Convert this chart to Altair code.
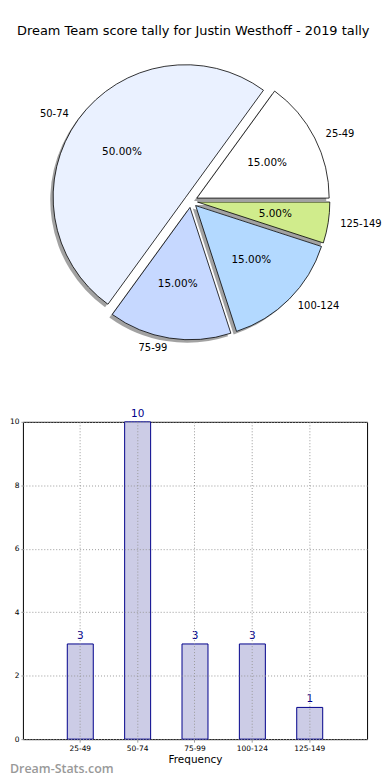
import altair as alt
import pandas as pd
import math

F = "DejaVu Sans"

labels = ["25-49", "50-74", "75-99", "100-124", "125-149"]
counts = [3, 10, 3, 3, 1]
order = [0, 1, 2, 3, 4]
pie_colors = ["#ffffff", "#eaf1ff", "#c6d8ff", "#b3d9ff", "#d0ec8c"]

df = pd.DataFrame({"label": labels, "count": counts, "order": order})

# pie view: width 358, centre at abs x ~191 ; 1 unit = 132 px horizontally, 130 px vertically
xs = alt.Scale(domain=[-169 / 132, 189 / 132], nice=False, zero=False)
ys = alt.Scale(domain=[-1.2615, 1.1385], nice=False, zero=False)
ts = alt.Scale(domain=[0, 1], range=[math.pi / 2, math.pi / 2 - 2 * math.pi], nice=False, zero=False)

base = (
    alt.Chart(df)
    .transform_window(end="sum(count)", sort=[alt.SortField("order")])
    .transform_joinaggregate(total="sum(count)")
    .transform_calculate(start="datum.end - datum.count")
    .transform_calculate(
        startf="datum.start / datum.total",
        endf="datum.end / datum.total",
        mid="PI * (datum.start + datum.end) / datum.total",
    )
    .transform_calculate(
        c="cos(datum.mid)",
        ex="0.05 * cos(datum.mid)",
        ey="0.05 * sin(datum.mid)",
        sx="0.05 * cos(datum.mid) - 0.022",
        sy="0.05 * sin(datum.mid) - 0.023",
        lx="1.15 * cos(datum.mid)",
        ly="1.15 * sin(datum.mid)",
        px="0.65 * cos(datum.mid)",
        py="0.65 * sin(datum.mid)",
        pct="format(100 * datum.count / datum.total, '.2f') + '%'",
    )
)

R = 133

shadow = base.mark_arc(radius=R, fill="#555555", fillOpacity=0.55).encode(
    x=alt.X("sx:Q", scale=xs, axis=None),
    y=alt.Y("sy:Q", scale=ys, axis=None),
    theta=alt.Theta("startf:Q", scale=ts),
    theta2="endf:Q",
)

wedges = base.mark_arc(radius=R, stroke="black", strokeWidth=0.8).encode(
    x=alt.X("ex:Q", scale=xs, axis=None),
    y=alt.Y("ey:Q", scale=ys, axis=None),
    theta=alt.Theta("startf:Q", scale=ts),
    theta2="endf:Q",
    color=alt.Color("label:N", scale=alt.Scale(domain=labels, range=pie_colors), legend=None),
)

lab_r = base.transform_filter("datum.c > 0").mark_text(
    align="left", baseline="middle", fontSize=10, font=F, color="black"
).encode(
    x=alt.X("lx:Q", scale=xs, axis=None),
    y=alt.Y("ly:Q", scale=ys, axis=None),
    text="label:N",
)

lab_l = base.transform_filter("datum.c <= 0").mark_text(
    align="right", baseline="middle", fontSize=10, font=F, color="black"
).encode(
    x=alt.X("lx:Q", scale=xs, axis=None),
    y=alt.Y("ly:Q", scale=ys, axis=None),
    text="label:N",
)

pct = base.mark_text(
    align="center", baseline="middle", fontSize=10.5, font=F, color="black"
).encode(
    x=alt.X("px:Q", scale=xs, axis=None),
    y=alt.Y("py:Q", scale=ys, axis=None),
    text="pct:N",
)

pie = alt.layer(shadow, wedges, lab_r, lab_l, pct).properties(
    width=358,
    height=312,
    view=alt.ViewBackground(strokeWidth=0, stroke="transparent"),
    title=alt.TitleParams(
        "Dream Team score tally for Justin Westhoff - 2019 tally",
        fontSize=13,
        font=F,
        fontWeight="normal",
        color="black",
        anchor="start",
        dx=-6,
        offset=16,
    ),
)

xenc = alt.X(
    "label:N",
    sort=labels,
    scale=alt.Scale(paddingInner=0.547, paddingOuter=0.7735),
    axis=alt.Axis(
        title="Frequency",
        labelAngle=0,
        labelFontSize=7.5,
        labelFont=F,
        labelColor="black",
        labelPadding=2,
        titleFontSize=10.5,
        titleFont=F,
        titleFontWeight="normal",
        titleColor="black",
        titlePadding=3,
        grid=True,
        gridDash=[1, 2],
        gridColor="#999999",
        gridWidth=1,
        bandPosition=0.5,
        tickSize=3,
        tickColor="#999999",
        domain=False,
        zindex=1,
    ),
)
yenc = alt.Y(
    "count:Q",
    scale=alt.Scale(domain=[0, 10], nice=False),
    axis=alt.Axis(
        title="",
        values=[0, 2, 4, 6, 8, 10],
        labelFontSize=7.5,
        labelFont=F,
        labelColor="black",
        labelPadding=2,
        grid=True,
        gridDash=[1, 2],
        gridColor="#999999",
        gridWidth=1,
        tickSize=2,
        tickColor="#999999",
        domain=False,
        zindex=1,
    ),
)

bars = alt.Chart(df).mark_bar(fill="#ccccE6", stroke="#00008b", strokeWidth=1).encode(x=xenc, y=yenc)
btext = alt.Chart(df).mark_text(
    baseline="bottom", dy=-3, fontSize=10.5, font=F, color="#00008b"
).encode(x=xenc, y=yenc, text="count:Q")

wm = alt.Chart(pd.DataFrame({"t": ["Dream-Stats.com"]})).mark_text(
    align="left", baseline="middle", fontSize=12.5, font="Open Sans", fontWeight=600, color="#999999"
).encode(x=alt.value(-13), y=alt.value(349), text="t:N")

bar = alt.layer(bars, btext, wm).properties(
    width=346,
    height=319,
    view=alt.ViewBackground(stroke="black", strokeWidth=1),
)

chart = (
    alt.vconcat(pie, bar, spacing=58, bounds="flush")
    .properties(padding={"top": 15, "left": 0, "right": 0, "bottom": 0})
    .configure_view(stroke="transparent")
    .configure(font=F)
)

chart.save("out.html", embed_options={"renderer": "svg", "actions": False})
